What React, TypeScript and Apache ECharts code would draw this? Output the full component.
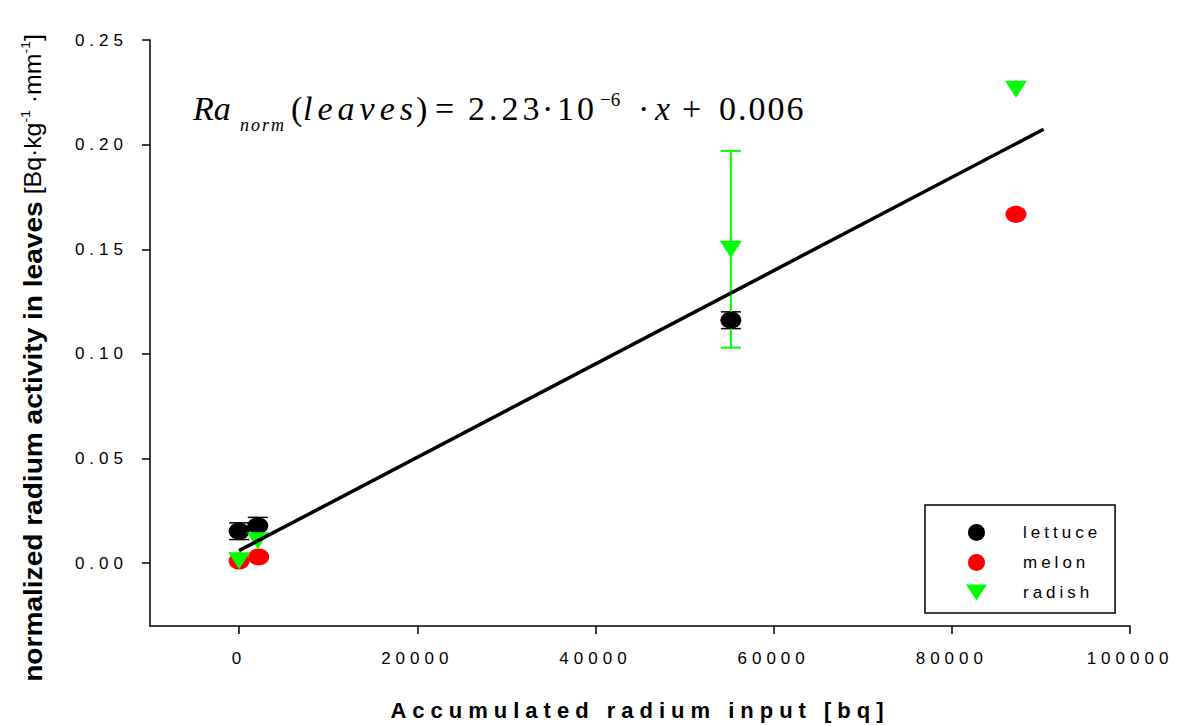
import React, { useEffect, useRef } from 'react';
import * as echarts from 'echarts';

// ---- data ----
const lettuceX = [0, 2100, 55200];
const lettuceY = [0.0153, 0.0179, 0.1161];
const lettuceErr = [0.004, 0.004, 0.004];

const melonX = [0, 2200, 87200];
const melonY = [0.001, 0.003, 0.1667];

const radishX = [0, 2100, 55200, 87200];
const radishY = [0.0012, 0.0107, 0.15, 0.2265];
const radishErr = [0, 0, 0.047, 0];

const fitSlope = 2.23e-6;
const fitIntercept = 0.006;
const fitXRange = [0, 90300];

const xTicks = [0, 20000, 40000, 60000, 80000, 100000];
const yTicks = [0, 0.05, 0.1, 0.15, 0.2, 0.25];

const seriesNames = ['lettuce', 'melon', 'radish'];

const SANS = '"Liberation Sans", Arial, sans-serif';
const SERIF = '"Liberation Serif", "Times New Roman", serif';

const letterSpacing: Record<string, number> = {
  'Accumulated radium input [bq]': 6,
  lettuce: 4,
  melon: 4,
  radish: 4,
  norm: 2,
  leaves: 5,
  '2.23': 4,
  '10': 3,
  '0.006': 2,
};
yTicks.forEach((v) => (letterSpacing[v.toFixed(2)] = 5));
xTicks.forEach((v) => (letterSpacing[String(v)] = 5));

function errorSeries(xs: number[], ys: number[], errs: number[], color: string, lw: number) {
  const data = xs
    .map((x, i) => [x, ys[i] - errs[i], ys[i] + errs[i]])
    .filter((d, i) => errs[i] > 0);
  return {
    type: 'custom',
    data,
    encode: { x: 0, y: [1, 2] },
    z: 1,
    silent: true,
    renderItem: (params: any, api: any) => {
      const x = api.value(0);
      const top = api.coord([x, api.value(2)]);
      const bot = api.coord([x, api.value(1)]);
      const w = 10;
      const style = { stroke: color, lineWidth: lw };
      return {
        type: 'group',
        children: [
          { type: 'line', shape: { x1: top[0], y1: top[1], x2: bot[0], y2: bot[1] }, style },
          { type: 'line', shape: { x1: top[0] - w, y1: top[1], x2: top[0] + w, y2: top[1] }, style },
          { type: 'line', shape: { x1: bot[0] - w, y1: bot[1], x2: bot[0] + w, y2: bot[1] }, style },
        ],
      };
    },
  };
}

function eqText(text: string, x: number, y: number, size: number, italic: boolean) {
  return {
    type: 'text',
    x,
    y,
    silent: true,
    style: {
      text,
      fontSize: size,
      fontFamily: SERIF,
      fontStyle: italic ? 'italic' : 'normal',
      fill: '#000',
      align: 'left',
      verticalAlign: 'middle',
    },
  };
}

export default function App() {
  const ref = useRef<HTMLDivElement>(null);
  useEffect(() => {
    const el = ref.current!;
    const chart = echarts.init(el, null, { renderer: 'svg', width: 1186, height: 726 });
    const option: any = {
      animation: false,
      backgroundColor: '#fff',
      grid: { left: 150, top: 40, right: 56, bottom: 100, containLabel: false },
      xAxis: {
        type: 'value',
        min: -10000,
        max: 100000,
        axisLine: { onZero: false, lineStyle: { color: '#000', width: 1.5 } },
        axisTick: { customValues: xTicks, length: 8, lineStyle: { color: '#000', width: 1.5 } },
        axisLabel: {
          customValues: xTicks,
          margin: 24,
          color: '#000',
          fontSize: 17,
          fontFamily: SANS,
          formatter: (v: number) => String(v),
        },
        splitLine: { show: false },
      },
      yAxis: {
        type: 'value',
        min: -0.03,
        max: 0.25,
        axisLine: { onZero: false, lineStyle: { color: '#000', width: 1.5 } },
        axisTick: { customValues: yTicks, length: 8, lineStyle: { color: '#000', width: 1.5 } },
        axisLabel: {
          customValues: yTicks,
          margin: 22,
          color: '#000',
          fontSize: 17,
          fontFamily: SANS,
          formatter: (v: number) => v.toFixed(2),
        },
        splitLine: { show: false },
      },
      legend: {
        data: [
          { name: 'lettuce' },
          { name: 'melon' },
          { name: 'radish', icon: 'path://M0,0 L22,0 L11,17 Z' },
        ],
        orient: 'vertical',
        left: 925,
        top: 505,
        padding: [19, 42, 12, 41],
        itemWidth: 21,
        itemHeight: 17,
        itemGap: 13,
        borderColor: '#000',
        borderWidth: 1.5,
        borderRadius: 0,
        selectedMode: false,
        textStyle: { fontSize: 17, fontFamily: SANS, color: '#000', padding: [0, 0, 0, 31] },
      },
      series: [
        errorSeries(lettuceX, lettuceY, lettuceErr, '#000', 1.5),
        errorSeries(radishX, radishY, radishErr, '#00ff00', 2),
        {
          name: 'lettuce',
          type: 'scatter',
          symbol: 'circle',
          symbolSize: [21, 17],
          itemStyle: { color: '#000', opacity: 1 },
          data: lettuceX.map((x, i) => [x, lettuceY[i]]),
          z: 3,
        },
        {
          name: 'melon',
          type: 'scatter',
          symbol: 'circle',
          symbolSize: [21, 17],
          itemStyle: { color: '#ff0000', opacity: 1 },
          data: melonX.map((x, i) => [x, melonY[i]]),
          z: 3,
        },
        {
          name: 'radish',
          type: 'scatter',
          symbol: 'triangle',
          symbolRotate: 180,
          symbolSize: [22, 17],
          itemStyle: { color: '#00ff00', opacity: 1 },
          data: radishX.map((x, i) => [x, radishY[i]]),
          z: 3,
        },
        {
          name: 'fit',
          type: 'line',
          symbol: 'none',
          silent: true,
          lineStyle: { color: '#000', width: 3.5 },
          data: fitXRange.map((x) => [x, fitSlope * x + fitIntercept]),
          z: 5,
        },
      ],
      graphic: [
        {
          type: 'text',
          x: 640,
          y: 710,
          silent: true,
          style: {
            text: 'Accumulated radium input [bq]',
            fontSize: 22,
            fontWeight: 'bold',
            fontFamily: SANS,
            fill: '#000',
            align: 'center',
            verticalAlign: 'middle',
          },
        },
        {
          type: 'text',
          x: 33,
          y: 358,
          rotation: Math.PI / 2,
          scaleX: 1.08,
          silent: true,
          style: {
            text: '{b|normalized radium activity in leaves}{n| [Bq·kg}{s|-1}{n| ·mm}{s|-1}{n|]}',
            align: 'center',
            verticalAlign: 'middle',
            fill: '#000',
            rich: {
              b: { fontSize: 26, fontWeight: 'bold', fontFamily: SANS, fill: '#000', lineHeight: 28 },
              n: { fontSize: 23, fontFamily: SANS, fill: '#000', lineHeight: 28 },
              s: { fontSize: 13, fontFamily: SANS, fill: '#000', verticalAlign: 'top', lineHeight: 14 },
            },
          },
        },
        eqText('Ra', 193, 108, 34, true),
        eqText('norm', 240, 125, 18, true),
        eqText('(', 291, 108, 34, false),
        eqText('leaves', 303, 108, 34, true),
        eqText(')', 416, 108, 34, false),
        eqText('=', 435, 108, 34, false),
        eqText('2.23', 468, 108, 34, false),
        eqText('·', 542, 108, 34, false),
        eqText('10', 557, 108, 34, false),
        eqText('−6', 600, 99, 19, false),
        eqText('·', 638, 108, 34, false),
        eqText('x', 655, 108, 34, true),
        eqText('+', 682, 108, 34, false),
        eqText('0.006', 719, 108, 34, false),
      ],
    };
    chart.setOption(option);
    el.querySelectorAll('text').forEach((t) => {
      const s = letterSpacing[(t.textContent || '').trim()];
      if (s) t.setAttribute('letter-spacing', s + 'px');
    });
    return () => chart.dispose();
  }, []);
  return (
    <div
      ref={ref}
      style={{ position: 'absolute', left: 0, top: 0, width: 1186, height: 726, background: '#fff' }}
    />
  );
}
